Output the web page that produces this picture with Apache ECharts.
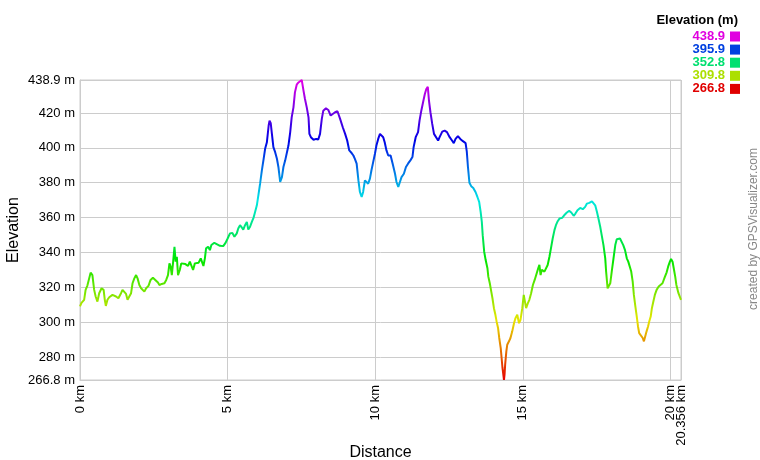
<!DOCTYPE html>
<html>
<head>
<meta charset="utf-8">
<script src="https://cdn.jsdelivr.net/npm/echarts@6/dist/echarts.min.js"></script>
<style>
html,body{margin:0;padding:0;background:#fff;}
#chart{width:760px;height:460px;}
</style>
</head>
<body>
<div id="chart"></div>
<script>
// Distance along track (km)
var distKm = [
  0,0.05,0.14,0.19,0.25,0.31,0.36,0.42,0.48,0.53,
  0.59,0.65,0.73,0.8,0.84,0.875,0.93,0.99,1.1,1.22,
  1.3,1.39,1.44,1.5,1.56,1.61,1.67,1.73,1.78,1.84,
  1.9,1.95,2.01,2.07,2.13,2.18,2.24,2.32,2.39,2.47,
  2.55,2.64,2.69,2.77,2.86,2.92,2.98,3.03,3.07,3.11,
  3.16,3.2,3.24,3.28,3.32,3.38,3.43,3.49,3.57,3.66,
  3.72,3.77,3.83,3.89,3.95,4.02,4.09,4.14,4.18,4.23,
  4.27,4.34,4.4,4.45,4.55,4.63,4.74,4.85,4.93,5.0,
  5.08,5.16,5.23,5.31,5.36,5.42,5.48,5.53,5.59,5.65,
  5.7,5.76,5.82,5.88,5.93,5.99,6.05,6.1,6.16,6.22,
  6.27,6.33,6.39,6.42,6.46,6.5,6.55,6.61,6.67,6.72,
  6.78,6.84,6.89,6.95,7.0,7.06,7.12,7.17,7.23,7.28,
  7.34,7.4,7.45,7.51,7.57,7.62,7.68,7.74,7.77,7.82,
  7.91,8.0,8.07,8.13,8.19,8.24,8.33,8.41,8.49,8.56,
  8.64,8.72,8.81,8.9,8.98,9.05,9.12,9.2,9.26,9.31,
  9.37,9.43,9.48,9.54,9.59,9.65,9.7,9.76,9.82,9.87,
  9.93,9.99,10.04,10.1,10.16,10.21,10.27,10.32,10.38,10.44,
  10.52,10.59,10.67,10.72,10.78,10.83,10.89,10.97,11.04,11.11,
  11.19,11.26,11.3,11.37,11.45,11.5,11.56,11.62,11.68,11.73,
  11.78,11.82,11.87,11.93,11.99,12.05,12.13,12.18,12.27,12.35,
  12.43,12.52,12.6,12.66,12.72,12.8,12.88,12.97,13.06,13.1,
  13.14,13.19,13.25,13.32,13.4,13.46,13.52,13.57,13.61,13.64,
  13.69,13.74,13.8,13.83,13.88,13.93,13.97,14.02,14.07,14.11,
  14.16,14.2,14.25,14.28,14.31,14.36,14.38,14.4,14.44,14.47,
  14.53,14.58,14.64,14.7,14.75,14.81,14.87,14.92,14.98,15.03,
  15.07,15.11,15.17,15.22,15.28,15.34,15.4,15.46,15.52,15.56,
  15.6,15.64,15.69,15.73,15.79,15.84,15.9,15.96,16.01,16.07,
  16.12,16.18,16.24,16.33,16.4,16.49,16.57,16.64,16.72,16.78,
  16.85,16.94,17.03,17.11,17.17,17.25,17.34,17.39,17.45,17.51,
  17.56,17.62,17.67,17.73,17.79,17.82,17.87,17.91,17.96,18.01,
  18.07,18.13,18.18,18.24,18.29,18.35,18.4,18.46,18.52,18.57,
  18.63,18.67,18.72,18.76,18.81,18.85,18.9,18.94,19.0,19.06,
  19.1,19.15,19.19,19.24,19.28,19.33,19.37,19.42,19.47,19.53,
  19.6,19.66,19.73,19.8,19.87,19.92,19.98,20.02,20.07,20.11,
  20.16,20.2,20.27,20.356
];
// Elevation (m)
var elevM = [
  309,311,312.8,318.5,321,320.8,328.4,327,318.5,314.7,
  311.8,316.6,319.4,318.5,312.8,309.3,312.8,314.3,315.6,314.7,
  313.7,316.6,318.5,317.6,316.2,312.8,314.7,316.6,322.3,325.1,
  327,325.1,321.3,319.4,318.5,317.5,319.4,320.8,324.2,325.5,
  324.2,322.7,321.3,321.9,322.3,324.2,327,333.7,331.8,327,
  335.6,343.2,334.7,337.5,327,329.9,333.7,332.8,333.3,332.2,
  334.7,333.7,329.9,333.7,334.7,334.1,336.6,335.6,332.2,336.6,
  342.3,343.2,341.3,344.2,345.5,344.8,343.8,343.6,345.5,348,
  350.9,351.2,349,350.9,353.7,355.6,354.3,353.1,355.6,357.5,
  353.1,354.7,357.5,360,363.2,367,373.7,379.4,387,393.7,
  399.4,403.2,412.8,415.6,414.1,408,400.4,397.5,393.7,389,
  380.4,383.2,389,392.8,393.7,401.3,409,417.5,423.2,431.8,
  436.2,437.5,436.6,438.9,432.8,428,423.2,417.5,408,406.1,
  404.6,405.1,404.8,408,416.6,421.3,422.7,421.7,418.5,419.4,
  420.4,421,416.6,411.8,408,404.2,398.5,397,395.6,393.7,
  390.9,381.3,374.7,371.8,374.7,381.3,382.3,379.4,382.3,387,
  391.8,396.6,401.3,405.1,408,409,406.1,403.2,398.5,395.6,
  395.6,390.9,385.1,380.4,377.5,376.6,383.2,385.1,389,390.9,
  392.8,394.7,400.4,406.1,409,415.6,421.3,426.1,430.9,433.7,
  435,427,420.4,413.7,408,409,404.2,406.1,409.3,409.9,
  409,406.1,404.2,402.7,405.1,406.7,405.1,403.8,402.7,398,
  389,380,378,377,374.5,371.8,369,363.2,357.5,349.9,
  340.4,335.6,330.9,326.1,322.3,317.5,313.7,308,304.2,300.4,
  296.6,290.9,285.1,279.4,273.7,266.8,270,275.6,283.2,287,
  289,290.9,294.7,299.4,302.3,304.2,299.4,301.3,308,315.6,
  311.8,308,310.9,312.8,316.6,321.3,324.2,325.1,330.9,332.8,
  327,330,330.9,329,328,332.8,337.5,343.2,348,352.8,
  355.6,357.9,359.4,359.8,361.3,362.9,363.8,362.9,361,362.3,
  364.2,365.5,364.8,366.1,368,368.4,369.3,369.3,367,363.2,
  359.4,354.7,349.9,344.2,336.6,329,319.4,319.4,322.3,329,
  336.6,344.2,347.6,348.6,348,347,344.2,341.3,336.6,334.7,
  333.7,329,323.2,315.6,309,304.2,297.5,293.7,292.8,290.9,
  289,289,294.7,297.5,300.4,303.2,308,311.8,315.6,318.5,
  320.4,319.4,322.3,325.5,328.6,331.8,334.7,336.2,334.7,330.9,
  326.1,321.3,316.6,312.8
];
var elevMin = 266.8, elevMax = 438.9, distMax = 20.356;
var legendValues = [438.9, 395.9, 352.8, 309.8, 266.8];
var legendColors = ['#e000e0', '#0040e0', '#00e070', '#acdf00', '#e00000'];
var rampColors = ['#e60000','#e67300','#e6e600','#73e600','#00e600','#00e673','#00e6e6','#0073e6','#0000e6','#7300e6','#e600e6'];

var n = Math.min(distKm.length, elevM.length);
var data = [];
for (var i = 0; i < n; i++) data.push([distKm[i], elevM[i]]);

var FONT = '"Liberation Sans", Arial, sans-serif';
var chart = echarts.init(document.getElementById('chart'), null, {renderer: 'canvas'});

var graphics = [
  {type: 'text', x: 738, y: 20, style: {text: 'Elevation (m)', font: 'bold 13px ' + FONT, fill: '#000', align: 'right', verticalAlign: 'middle'}},
  {type: 'text', x: 14, y: 230, rotation: Math.PI / 2,
    style: {text: 'Elevation', font: '16px ' + FONT, fill: '#000', align: 'center', verticalAlign: 'middle'}}
];
legendValues.forEach(function (v, k) {
  var cy = 36.5 + k * 13.1;
  graphics.push({type: 'text', x: 725, y: cy, style: {text: v.toFixed(1), font: 'bold 13px ' + FONT, fill: legendColors[k], align: 'right', verticalAlign: 'middle'}});
  graphics.push({type: 'rect', shape: {x: 730, y: cy - 5, width: 10, height: 10}, style: {fill: legendColors[k]}});
});
graphics.push({type: 'text', x: 754, y: 229, rotation: Math.PI / 2,
  style: {text: 'created by GPSVisualizer.com', font: '12px ' + FONT, fill: '#888', align: 'center', verticalAlign: 'middle'}});

var labelStyle = {fontFamily: FONT, fontSize: 13, color: '#000'};

chart.setOption({
  animation: false,
  backgroundColor: '#fff',
  grid: {left: 80, right: 79, top: 80, bottom: 80, show: true, borderColor: '#cccccc', borderWidth: 1,
    containLabel: false, outerBoundsMode: 'none'},
  visualMap: {show: false, type: 'continuous', dimension: 1, min: elevMin, max: elevMax, inRange: {color: rampColors}},
  xAxis: [{
    type: 'value', min: 0, max: distMax, interval: 5,
    name: 'Distance', nameLocation: 'middle', nameGap: 65,
    nameTextStyle: {fontFamily: FONT, fontSize: 16, color: '#000'},
    axisLine: {show: true, lineStyle: {color: '#cccccc'}},
    axisTick: {show: false},
    axisLabel: Object.assign({rotate: 90, margin: 5, showMaxLabel: false, showMinLabel: true, hideOverlap: false,
      formatter: function (v) { return (Math.round(v * 1000) / 1000) + ' km'; }}, labelStyle),
    splitLine: {show: true, lineStyle: {color: '#cccccc', width: 1}}
  }, {
    type: 'value', position: 'bottom', min: 0, max: distMax, interval: distMax,
    axisLine: {show: false}, axisTick: {show: false}, splitLine: {show: false},
    axisLabel: Object.assign({rotate: 90, margin: 5, showMaxLabel: true, showMinLabel: false, hideOverlap: false,
      formatter: function (v) { return v > 20 ? (Math.round(v * 1000) / 1000) + ' km' : ''; }}, labelStyle)
  }],
  yAxis: {
    type: 'value', min: elevMin, max: elevMax, splitNumber: 8, minInterval: 20, maxInterval: 20,
    axisLine: {show: true, lineStyle: {color: '#cccccc'}},
    axisTick: {show: false},
    axisLabel: Object.assign({margin: 5, showMaxLabel: true, showMinLabel: true, hideOverlap: false,
      formatter: function (v) { return (Math.round(v * 10) / 10) + ' m'; }}, labelStyle),
    splitLine: {show: true, lineStyle: {color: '#cccccc', width: 1}}
  },
  series: [{
    type: 'line', data: data, xAxisIndex: 0, showSymbol: false, symbol: 'none', smooth: false,
    lineStyle: {width: 2}
  }],
  graphic: graphics
});
</script>
</body>
</html>
